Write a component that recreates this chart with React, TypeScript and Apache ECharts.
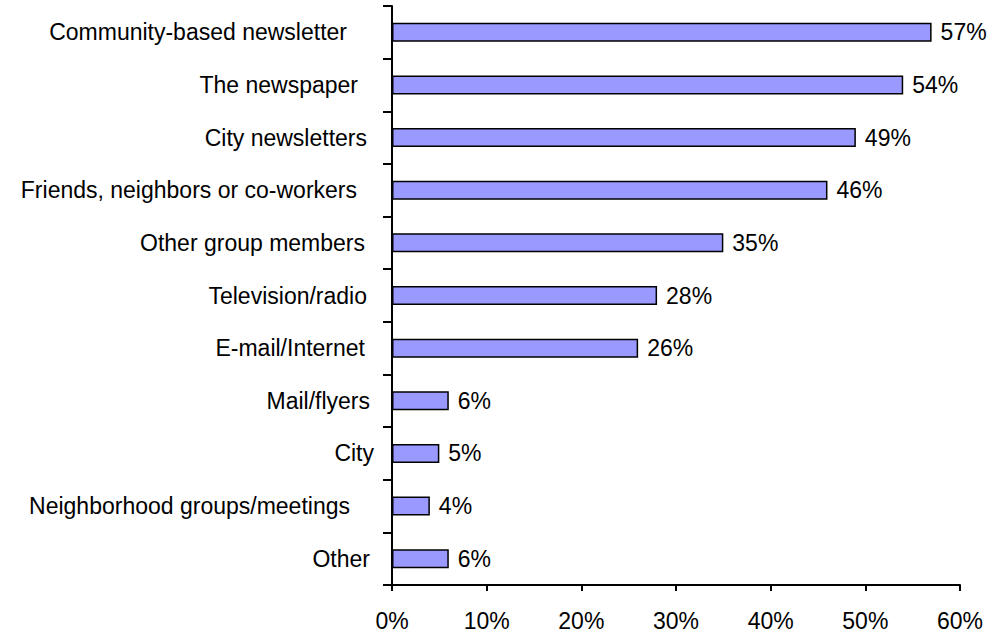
import React, { useEffect, useRef } from "react";
import * as echarts from "echarts";

const categories = [
  "Community-based newsletter",
  "The newspaper",
  "City newsletters",
  "Friends, neighbors or co-workers",
  "Other group members",
  "Television/radio",
  "E-mail/Internet",
  "Mail/flyers",
  "City",
  "Neighborhood groups/meetings",
  "Other",
];
const values = [57, 54, 49, 46, 35, 28, 26, 6, 5, 4, 6];
const xTicks = [0, 10, 20, 30, 40, 50, 60];

// extra right padding per label (mimics trailing spaces in the original)
const labelPad = [27, 16, 7, 17, 9, 7, 9, 4, 0, 24, 4];

export default function App() {
  const ref = useRef<HTMLDivElement>(null);
  useEffect(() => {
    if (!ref.current) return;
    const chart = echarts.init(ref.current, null, { renderer: "svg" });
    const font = "'Liberation Sans', Arial, sans-serif";
    chart.setOption({
      animation: false,
      backgroundColor: "#ffffff",
      grid: { left: 392, right: 32, top: 6, bottom: 52, containLabel: false },
      xAxis: {
        type: "value",
        min: xTicks[0],
        max: xTicks[xTicks.length - 1],
        interval: 10,
        axisLine: { show: true, lineStyle: { color: "#000", width: 2 } },
        axisTick: { show: true, length: 6, lineStyle: { color: "#000", width: 2 } },
        splitLine: { show: false },
        axisLabel: {
          formatter: "{value}%",
          color: "#000",
          fontSize: 23,
          fontFamily: font,
          margin: 24,
        },
      },
      yAxis: {
        type: "category",
        inverse: true,
        data: categories.map((c, i) => ({
          value: c,
          textStyle: { padding: [0, labelPad[i], 0, 0] },
        })),
        axisLine: { show: true, lineStyle: { color: "#000", width: 2 } },
        axisTick: { show: true, length: 9, lineStyle: { color: "#000", width: 2 } },
        axisLabel: {
          color: "#000",
          fontSize: 23,
          fontFamily: font,
          margin: 18,
        },
      },
      series: [
        {
          type: "bar",
          data: values,
          barWidth: 19,
          itemStyle: { color: "#9999ff", borderColor: "#000", borderWidth: 1.5 },
          label: {
            show: true,
            position: "right",
            distance: 9,
            formatter: "{c}%",
            color: "#000",
            fontSize: 23,
            fontFamily: font,
          },
        },
      ],
    });
    return () => chart.dispose();
  }, []);
  return (
    <div
      ref={ref}
      style={{ position: "fixed", left: 0, top: 0, width: 992, height: 637, background: "#fff" }}
    />
  );
}
